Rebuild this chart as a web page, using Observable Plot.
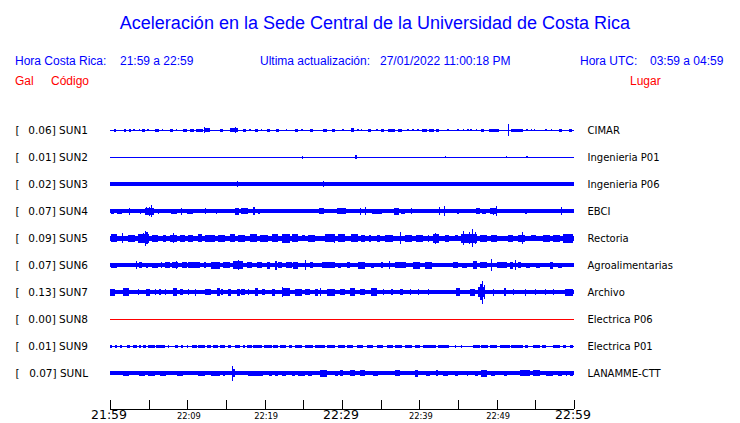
<!DOCTYPE html>
<html><head><meta charset="utf-8">
<script src="https://cdn.jsdelivr.net/npm/d3@7"></script>
<script src="https://cdn.jsdelivr.net/npm/@observablehq/plot@0.6"></script>
<style>
body{margin:0;background:#fff;width:740px;height:423px;overflow:hidden}
#hdr{position:relative;height:100px;font-family:"Liberation Sans",Arial,sans-serif;}
#hdr div{position:absolute;white-space:pre;line-height:1}
#hdr .t{font-size:18px;color:#0000ff;left:10px;width:730px;text-align:center;top:14px}
#hdr .b{font-size:12px;color:#0000ff;top:55px}
#hdr .r{font-size:12px;color:#ff0000;top:75px}
#chart svg{display:block;overflow:visible}
</style></head><body>
<div id="hdr"></div>
<div id="chart"></div>
<script>
// ---- header texts ----
const title = "Aceleración en la Sede Central de la Universidad de Costa Rica";
const localRange = "21:59 a 22:59";
const utcRange = "03:59 a 04:59";
const updated = "27/01/2022 11:00:18 PM";

// ---- stations ----
const codes = ["SUN1","SUN2","SUN3","SUN4","SUN5","SUN6","SUN7","SUN8","SUN9","SUNL"];
const places = ["CIMAR","Ingenieria P01","Ingenieria P06","EBCI","Rectoria","Agroalimentarias","Archivo","Electrica P06","Electrica P01","LANAMME-CTT"];
const gal = [0.06, 0.01, 0.02, 0.07, 0.09, 0.07, 0.13, 0.00, 0.01, 0.07];
// background (noise) half-amplitude of each trace, in trace units (27 units = one row)
const baseHalf = [0.5, 0.5, 1.8, 1.7, 2.5, 1.7, 2.1, 0.5, 0.5, 1.8];

// ---- time axis (minutes after 21:59) ----
const tickMinutes = [0,5,10,15,20,25,30,35,40,45,50,55,60];
const majorMinutes = [0, 30, 60];
const majorLabels = ["21:59","22:29","22:59"];
const minorMinutes = [10, 20, 40, 50];
const minorLabels = ["22:09","22:19","22:39","22:49"];

// ---- bursts: [start min, end min, half-amplitude] ----
const sun1 = [[0.5,0.8,1.5],[1.8,2.1,1.5],[2.5,2.7,1.5],[3.0,3.2,1],[3.7,3.9,1],[4.2,4.5,1.5],[4.8,5.0,1],[5.8,6.3,1.5],[6.7,6.9,1],[7.8,8.2,1.5],[8.5,8.7,1],[9.5,9.9,1.5],[10.4,10.8,1.5],[11.1,12.0,1.5],[12.1,12.2,3],[12.2,12.9,2],[14.2,14.6,1.5],[15.5,16.6,2],[16.2,16.3,3],[17.2,17.6,1.5],[18.0,18.2,1],[18.8,19.2,1.5],[19.5,19.7,1],[20.3,20.7,1.5],[21.5,21.9,1.5],[22.7,22.9,1],[23.9,24.3,1.5],[24.7,24.9,1],[25.9,26.3,1.5],[27.6,28.0,1.5],[28.7,29.1,1.5],[30.0,30.2,1],[31.2,31.6,2],[32.0,32.2,1],[32.4,32.6,1],[33.4,33.8,1.5],[34.4,34.6,1],[35.0,35.4,1.5],[36.0,36.8,1.5],[37.3,37.7,1.5],[38.4,38.6,1],[39.1,39.3,1],[39.7,39.9,1],[40.4,41.0,1.5],[41.3,41.9,1.5],[42.2,42.6,1.5],[43.6,43.8,1],[44.9,45.1,1],[45.6,45.8,1],[46.2,46.4,1],[46.6,46.8,1],[47.3,47.5,1],[48.0,48.4,1.5],[49.0,50.3,1.5],[51.45,51.6,6.3],[51.8,53.4,1.5],[53.8,54.0,1],[54.4,54.6,1],[54.8,55.0,1],[56.3,56.5,1],[57.0,57.2,1],[58.0,58.5,1.5],[59.4,59.8,1.5]];
const sun2 = [[24.85,25.0,1.5],[31.7,32.0,2],[43.35,43.5,1],[51.15,51.3,1],[53.85,54.0,1]];
const sun3 = [[16.45,16.6,3],[27.55,27.7,3],[45.05,45.2,2.2]];
const sun4 = [[0.1,0.5,2.5],[0.9,1.6,2.5],[2.45,2.6,3.5],[3.85,4.0,2.5],[4.5,5.7,3.5],[4.6,4.75,4],[5.0,5.1,4.5],[5.3,5.4,6],[6.15,6.3,2.5],[7.9,8.7,2.5],[9.15,9.3,3.5],[10.0,10.7,2.5],[11.15,11.3,2],[12.25,12.4,3],[13.05,13.2,2],[13.7,13.9,2.5],[15.45,15.6,2],[16.1,16.7,3.5],[16.9,17.8,3],[18.55,18.7,4],[19.2,19.4,2.5],[20.25,20.4,2],[21.05,21.2,2],[25.45,25.6,2],[27.0,27.7,3],[29.4,30.5,3],[32.35,32.5,3.5],[32.95,33.1,4],[33.9,35.2,2.5],[35.35,35.5,2],[35.95,36.1,2],[36.7,37.4,3.5],[37.6,38.2,2.5],[38.95,39.1,3],[40.35,40.5,2],[42.5,42.7,4],[43.15,43.3,5],[43.85,44.0,2],[44.9,45.1,2.5],[45.85,46.0,2],[47.3,47.9,3],[48.1,48.6,2.5],[49.2,50.1,3],[49.55,49.7,3.5],[49.95,50.1,5],[51.0,52.2,2],[53.7,53.9,2.5],[56.15,56.3,2],[58.35,58.5,4]];
const sun5 = [[0.1,0.9,4],[1.5,1.7,5],[2.3,3.2,3.5],[3.6,5.0,4.5],[4.3,4.4,5],[4.5,4.6,7.5],[4.7,4.8,6],[5.4,6.2,3.5],[6.8,7.3,3.5],[7.8,8.6,3.5],[8.1,8.25,5],[9.0,9.7,3.5],[10.1,10.7,3.5],[11.4,11.9,4],[12.3,13.6,3.5],[14.0,14.9,3.5],[15.5,16.2,4],[16.5,17.4,3.5],[18.1,19.0,4],[19.4,20.4,3.5],[20.9,21.7,4],[22.2,23.3,4.5],[23.5,24.3,4],[24.8,25.2,3],[25.6,26.5,3.5],[27.8,29.1,4],[28.95,29.1,4.5],[29.5,30.4,4],[31.2,32.1,4],[32.5,33.0,3.5],[33.5,33.7,3.5],[34.5,34.9,3.5],[35.5,36.6,3.5],[37.5,37.65,6],[38.1,39.0,3.5],[39.6,40.5,3.5],[41.1,41.25,3.5],[41.8,42.6,4.5],[42.0,42.15,5.5],[43.3,43.9,3.5],[44.6,45.0,3],[45.4,47.4,4.5],[45.6,45.75,7],[46.4,46.55,6],[46.85,47.0,9],[47.2,47.35,6],[47.8,48.7,3.5],[49.3,50.0,3.5],[50.35,50.5,2.5],[51.5,52.1,3.5],[52.8,53.6,3.5],[53.3,53.45,6],[54.5,55.1,3],[56.0,56.9,3.5],[57.3,58.2,3.5],[58.6,59.9,4.5]];
const sun6 = [[0.1,0.9,2.5],[3.4,3.55,4],[3.7,4.1,3],[4.7,4.85,2.5],[5.4,6.2,2.5],[6.6,6.75,3],[7.1,7.8,3],[8.0,8.8,3],[8.5,8.65,4],[9.3,9.9,3],[10.1,11.6,3],[12.2,12.35,3],[13.1,14.2,3.5],[14.6,15.5,3],[15.9,17.2,4],[16.5,16.65,5],[17.7,18.3,3],[19.0,19.6,3],[20.3,20.7,3.5],[21.4,21.55,4.5],[21.7,22.2,3],[22.8,23.5,3],[23.7,24.3,3.5],[25.2,25.35,5],[25.8,26.3,3],[27.4,29.1,3],[29.5,29.9,2.5],[30.6,31.0,3],[32.1,33.0,3.5],[33.8,34.2,2.5],[35.1,35.3,3],[36.1,36.25,4],[36.8,38.3,3],[39.2,40.1,3.5],[40.7,41.6,3.5],[44.4,45.0,3],[45.5,46.1,2.5],[47.0,47.4,4],[47.8,48.7,3],[49.3,49.45,6],[50.0,51.3,3],[51.7,52.1,3.5],[52.4,52.55,5],[52.8,53.2,3],[53.8,54.3,2.5],[55.1,55.6,2.5],[56.9,57.3,3.5],[57.9,58.4,2.5],[58.5,60,2]];
const sun7 = [[0,0.6,3.5],[1.7,2.4,4],[3.6,3.75,3],[4.7,5.2,3.5],[5.8,5.95,3],[6.4,6.55,3],[7.1,7.25,3],[8.2,8.6,4],[9.0,9.5,3],[10.1,10.25,3],[11.0,11.15,3.5],[12.3,13.1,3],[13.8,14.2,4],[14.4,14.6,3],[15.3,15.7,3.5],[16.4,16.8,3.5],[17.0,17.4,3],[17.8,17.95,3],[18.7,19.2,4],[19.6,20.0,3],[20.9,21.3,3.5],[22.2,22.35,5],[22.4,23.3,4],[23.9,24.8,3.5],[25.2,25.8,3],[26.5,26.9,3.5],[27.1,27.25,4],[28.0,29.1,3.5],[29.7,30.4,3],[31.0,31.7,4],[32.3,33.0,3],[33.8,34.5,4],[35.3,35.45,3],[36.4,36.6,3],[37.5,37.9,3],[38.8,38.95,3],[39.8,39.95,3],[41.1,41.25,3],[44.8,45.2,4],[46.5,47.2,3.5],[47.6,48.5,5],[47.9,48.05,8],[48.1,48.25,11.5],[48.3,48.45,7],[49.5,49.65,3.5],[51.0,51.15,4],[52.1,52.25,3],[53.6,53.8,3.5],[54.9,55.05,3],[56.2,56.35,3],[57.3,57.45,3],[58.8,59.9,3.5]];
const sun8 = [];
const sun9 = [[0.0,0.3,1.5],[0.6,0.9,1.5],[1.3,1.5,1.5],[2.2,2.6,1.5],[3.0,3.5,1.5],[3.7,4.0,1.5],[4.3,4.7,1.5],[4.9,5.8,1.5],[6.0,7.1,1.5],[7.5,7.6,1.5],[8.4,8.8,1.5],[9.2,9.5,1.5],[9.9,10.0,1.5],[10.6,11.2,1.5],[11.4,12.3,1.5],[12.5,13.1,1.5],[13.3,14.0,1.5],[14.2,14.9,1.5],[15.2,15.7,1.5],[16.2,16.8,1.5],[17.2,17.4,1.5],[17.7,18.3,1.5],[18.5,19.6,1.5],[19.9,20.9,1.5],[21.1,21.7,1.5],[22.0,22.8,1.5],[23.1,23.5,1.5],[23.9,24.8,1.5],[25.2,26.3,1.5],[26.5,27.8,1.5],[28.0,29.1,1.5],[29.5,30.4,1.5],[30.6,31.4,1.5],[31.9,32.7,1.5],[33.2,34.0,1.5],[34.5,35.3,1.5],[35.8,36.6,1.5],[36.8,37.7,1.5],[38.1,39.0,1.5],[39.4,40.1,1.5],[40.5,42.2,1.5],[42.4,43.9,1.5],[44.6,44.8,1.5],[45.4,45.5,1.5],[46.9,47.8,1.5],[48.0,48.9,1.5],[49.1,50.0,1.5],[50.4,51.7,1.5],[51.9,53.4,1.5],[53.6,54.1,1.5],[54.7,55.6,1.5],[55.8,56.4,1.5],[57.3,58.2,1.5],[58.6,59.0,1.5],[59.5,59.9,1.5]];
const sunL = [[0.0,0.2,2],[1.7,2.4,2.5],[3.7,4.5,2.5],[4.9,5.8,2.5],[6.5,7.3,2.5],[8.6,9.5,2.5],[11.4,12.3,2.5],[13.1,14.2,2.5],[14.6,14.9,2.5],[15.8,15.95,7.5],[15.95,16.2,4],[17.9,19.8,2.5],[20.5,20.9,2.5],[21.3,21.7,2.5],[22.2,22.8,2.5],[23.5,23.9,2.5],[24.3,25.2,2.5],[25.6,26.1,2.5],[27.1,28.0,3.5],[29.1,29.5,2.5],[29.7,30.1,3],[31.0,31.7,3],[32.3,33.0,3],[34.0,34.7,2.5],[36.8,37.5,3],[39.4,39.8,3.5],[40.9,41.4,2.5],[42.2,42.35,3],[43.1,43.7,2.5],[44.6,45.0,2.5],[46.1,46.25,2.5],[47.2,47.6,2.5],[48.0,48.7,3.5],[49.3,49.8,2.5],[51.0,51.3,2.5],[53.0,54.3,3],[54.7,55.6,3],[56.4,57.3,2.5],[57.9,58.4,2.5],[59.0,59.15,2.5],[59.5,59.9,2.5]];
const traces = [sun1, sun2, sun3, sun4, sun5, sun6, sun7, sun8, sun9, sunL];

// ---- header ----
const hdr = document.getElementById("hdr");
function addText(cls, text, left){
  const d = document.createElement("div");
  d.className = cls; d.textContent = text;
  if (left != null) d.style.left = left + "px";
  hdr.appendChild(d);
}
addText("t", title);
addText("b", "Hora Costa Rica:", 15);
addText("b", localRange, 120);
addText("b", "Ultima actualización:", 260);
addText("b", updated, 380);
addText("b", "Hora UTC:", 580);
addText("b", utcRange, 650);
addText("r", "Gal", 15);
addText("r", "Código", 51);
addText("r", "Lugar", 630);

// ---- chart ----
const U = 27;                       // trace units per row
const axisRow = codes.length + 1/3; // time axis sits a third of a row below the last trace
const rows = codes.map((c, i) => ({i, code: c, place: places[i], gal: gal[i], base: baseHalf[i]}));
const evs = traces.flatMap((list, i) => list.map(([t1, t2, a]) => ({i, t1, t2: Math.max(t2, t1 + 0.15), a})));
const col = d => d.gal === 0 ? "#ff0000" : "#0000ff";
const labelFont = {fontSize: 10.5, fontFamily: "DejaVu Sans", fill: "black"};

const chart = Plot.plot({
  width: 740, height: 323,
  marginLeft: 110, marginRight: 166, marginTop: 0, marginBottom: 14,
  style: {fontFamily: "DejaVu Sans", background: "white", overflow: "visible"},
  x: {domain: [0, 60], axis: null},
  y: {domain: [0, axisRow], range: [30, 309], axis: null},
  marks: [
    Plot.rect(rows, {x1: 0, x2: 60, y1: d => d.i - d.base / U, y2: d => d.i + d.base / U, fill: col, shapeRendering: "crispEdges"}),
    Plot.rect(evs, {x1: "t1", x2: "t2", y1: d => d.i - d.a / U, y2: d => d.i + d.a / U, fill: "#0000ff", shapeRendering: "crispEdges"}),
    Plot.text(rows, {x: 0, y: "i", text: () => "[", textAnchor: "start", dx: -95, ...labelFont}),
    Plot.text(rows, {x: 0, y: "i", text: d => `${d.gal.toFixed(2)}] ${d.code}`, textAnchor: "end", dx: -22.5, ...labelFont}),
    Plot.text(rows, {x: 60, y: "i", text: "place", textAnchor: "start", dx: 13, fontSize: 10, fontFamily: "DejaVu Sans", fill: "black"}),
    Plot.ruleY([axisRow], {x1: 0, x2: 60, stroke: "black", shapeRendering: "crispEdges"}),
    Plot.ruleX(tickMinutes, {y1: axisRow - 9 / U, y2: axisRow, stroke: "black", shapeRendering: "crispEdges"}),
    Plot.text(majorMinutes, {x: d => d, y: axisRow, text: (d, i) => majorLabels[i], dy: 5.5, dx: -1.5, fontSize: 12.5, fontFamily: "DejaVu Sans", fill: "black"}),
    Plot.text(minorMinutes, {x: d => d, y: axisRow, text: (d, i) => minorLabels[i], dy: 6.5, dx: 1, fontSize: 8.3, fontFamily: "DejaVu Sans", fill: "black"})
  ]
});
document.getElementById("chart").appendChild(chart);
</script>
</body></html>
